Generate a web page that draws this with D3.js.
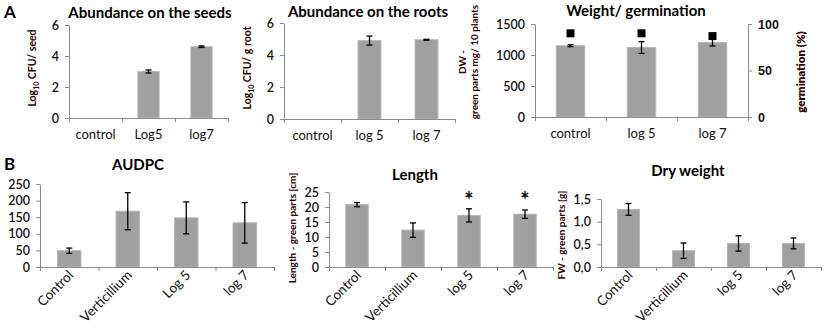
<!DOCTYPE html>
<html><head><meta charset="utf-8">
<script src="https://cdn.jsdelivr.net/npm/d3@7"></script>
<style>
body{margin:0;background:#fff;}
svg{display:block;font-family:Lato, "Liberation Sans", sans-serif;}
</style></head>
<body><svg id="c" width="827" height="329"></svg>
<script>
// ---- data ----
const seedCats = ["control", "Log5", "log7"];
const seedVals = [null, 3.0, 4.6];
const seedErr  = [null, 0.1, 0.05];

const rootCats = ["control", "log 5", "log 7"];
const rootVals = [null, 4.9, 4.95];
const rootErr  = [null, 0.28, 0.03];

const weightCats = ["control", "log 5", "log 7"];
const weightVals = [1150, 1120, 1200];
const weightErr  = [15, 95, 55];
const germVals   = [90, 90, 87];

const audpcCats = ["Control", "Verticillium", "Log 5", "log 7"];
const audpcVals = [49, 168, 148, 133];
const audpcErr  = [8, 56, 48, 61];

const lengthCats = ["Control", "Verticillium", "log 5", "log 7"];
const lengthVals = [20.8, 12.3, 17.2, 17.6];
const lengthErr  = [0.7, 2.4, 2.2, 1.4];
const lengthSig  = ["", "", "*", "*"];

const dryCats = ["Control", "Verticillium", "log 5", "log 7"];
const dryVals = [1.27, 0.36, 0.52, 0.52];
const dryErr  = [0.13, 0.17, 0.17, 0.12];

const logTicks    = [0, 2, 4, 6];
const weightTicks = [0, 500, 1000, 1500];
const germTicks   = [0, 50, 100];
const audpcTicks  = [0, 50, 100, 150, 200, 250];
const lengthTicks = [0, 5, 10, 15, 20, 25];
const dryTicks    = [0, 0.5, 1.0, 1.5];

// ---- style ----
const AXIS = "#8c8c8c", BAR = "#a0a0a0", BARSTROKE = "#b5b5b5", TXT = "#111", YLAB = "#2a0303";
const svg = d3.select("#c");

function panel(o) {
  const g = svg.append("g");
  const x = d3.scaleBand().domain(o.cats).range([o.x0, o.x1]).paddingInner(0.6).paddingOuter(0.3);
  const xi = d3.scaleLinear().domain([0, o.cats.length]).range([o.x0, o.x1]);
  const y = d3.scaleLinear().domain([0, o.ymax]).range([o.yb, o.yt]);

  g.selectAll("rect.bar").data(o.vals.map((v, i) => ({v, c: o.cats[i], e: o.err[i]})).filter(d => d.v != null))
    .join("rect").attr("class", "bar")
    .attr("x", d => x(d.c)).attr("width", x.bandwidth())
    .attr("y", d => y(d.v)).attr("height", d => y(0) - y(d.v))
    .attr("fill", BAR).attr("stroke", BARSTROKE).attr("stroke-width", 1);

  const ya = g.append("g").attr("transform", `translate(${o.x0},0)`)
    .call(d3.axisLeft(y).tickValues(o.ticks).tickSize(4).tickSizeOuter(0).tickPadding(6)
      .tickFormat(o.fmt || d3.format("d")));
  ya.select(".domain").attr("stroke", AXIS);
  ya.selectAll(".tick line").attr("stroke", AXIS);
  ya.selectAll(".tick text").attr("fill", TXT).attr("font-size", 12.5).attr("font-weight", 600).attr("font-family", "Lato");

  const xa = g.append("g").attr("transform", `translate(0,${o.yb})`)
    .call(d3.axisBottom(xi).tickValues(d3.range(0, o.cats.length + 1)).tickSize(4).tickSizeOuter(0).tickFormat(""));
  xa.select(".domain").attr("stroke", AXIS);
  xa.selectAll(".tick line").attr("stroke", AXIS);

  const eb = o.vals.map((v, i) => ({v, c: o.cats[i], e: o.err[i]})).filter(d => d.v != null && d.e != null);
  const cx = d => x(d.c) + x.bandwidth() / 2;
  g.selectAll("line.err").data(eb).join("line")
    .attr("x1", cx).attr("x2", cx).attr("y1", d => y(d.v + d.e)).attr("y2", d => y(d.v - d.e))
    .attr("stroke", "#000").attr("stroke-width", 1.3);
  ["+", "-"].forEach(s => {
    g.selectAll("line.cap" + (s === "+" ? "t" : "b")).data(eb).join("line")
      .attr("x1", d => cx(d) - 3).attr("x2", d => cx(d) + 3)
      .attr("y1", d => y(s === "+" ? d.v + d.e : d.v - d.e)).attr("y2", d => y(s === "+" ? d.v + d.e : d.v - d.e))
      .attr("stroke", "#000").attr("stroke-width", 1.3);
  });

  if (o.rot) {
    g.selectAll("text.cat").data(o.cats).join("text")
      .attr("transform", d => `translate(${x(d) + x.bandwidth() / 2 + 5},${o.yb + 9}) rotate(-45)`)
      .attr("text-anchor", "end").attr("font-size", 13.5).attr("fill", TXT).text(d => d);
  } else {
    g.selectAll("text.cat").data(o.cats).join("text")
      .attr("x", d => x(d) + x.bandwidth() / 2).attr("y", o.yb + 21)
      .attr("text-anchor", "middle").attr("font-size", 13).attr("fill", TXT).text(d => d);
  }

  g.append("text").attr("x", o.tx).attr("y", o.ty).attr("text-anchor", "middle")
    .attr("font-size", 15).attr("font-weight", 700).attr("fill", "#000").text(o.title);

  return {g, x, y};
}

function yLabel(xx, yy, size) {
  return svg.append("text").attr("transform", `translate(${xx},${yy}) rotate(-90)`)
    .attr("text-anchor", "middle").attr("font-size", size).attr("font-weight", 700).attr("fill", YLAB);
}

// ---- Panel A ----
svg.append("text").attr("x", 4).attr("y", 18).attr("font-size", 17).attr("font-weight", 700).text("A");
svg.append("text").attr("x", 4).attr("y", 170).attr("font-size", 17).attr("font-weight", 700).text("B");

panel({cats: seedCats, vals: seedVals, err: seedErr, x0: 69, x1: 228, yb: 118, yt: 25, ymax: 6, ticks: logTicks,
  title: "Abundance on the seeds", tx: 150, ty: 18});
let t = yLabel(36, 68, 10.5);
t.append("tspan").text("Log");
t.append("tspan").attr("font-size", 7).attr("dy", 3).text("10");
t.append("tspan").attr("dy", -3).text(" CFU/ seed");

panel({cats: rootCats, vals: rootVals, err: rootErr, x0: 284, x1: 455, yb: 119, yt: 23, ymax: 6, ticks: logTicks,
  title: "Abundance on the roots", tx: 368, ty: 17});
t = yLabel(251, 68, 10.5);
t.append("tspan").text("Log");
t.append("tspan").attr("font-size", 7).attr("dy", 3).text("10");
t.append("tspan").attr("dy", -3).text(" CFU/ g root");

const w = panel({cats: weightCats, vals: weightVals, err: weightErr, x0: 535, x1: 748, yb: 117, yt: 24, ymax: 1500, ticks: weightTicks,
  title: "Weight/ germination", tx: 636, ty: 16});
const yR = d3.scaleLinear().domain([0, 100]).range([117, 24]);
const ra = svg.append("g").attr("transform", "translate(748,0)")
  .call(d3.axisRight(yR).tickValues(germTicks).tickSize(4).tickSizeOuter(0).tickPadding(6));
ra.select(".domain").attr("stroke", AXIS);
ra.selectAll(".tick line").attr("stroke", AXIS);
ra.selectAll(".tick text").attr("fill", TXT).attr("font-size", 12.5).attr("font-weight", 600);
svg.selectAll("rect.germ").data(germVals.map((v, i) => ({v, c: weightCats[i]}))).join("rect")
  .attr("x", d => w.x(d.c) + w.x.bandwidth() / 2 - 4).attr("y", d => yR(d.v) - 4)
  .attr("width", 8).attr("height", 8).attr("fill", "#000");
t = yLabel(466, 62, 10);
t.append("tspan").attr("x", 0).attr("dy", 0).text("DW -");
t.append("tspan").attr("x", 0).attr("dy", 12).text("green parts mg/ 10 plants");
svg.append("text").attr("transform", "translate(805,72) rotate(-90)").attr("text-anchor", "middle")
  .attr("font-size", 11.5).attr("font-weight", 800).attr("fill", YLAB).text("germination (%)");

// ---- Panel B ----
panel({cats: audpcCats, vals: audpcVals, err: audpcErr, x0: 40, x1: 274, yb: 267, yt: 184, ymax: 250, ticks: audpcTicks,
  title: "AUDPC", tx: 138, ty: 170, rot: true});

const L = panel({cats: lengthCats, vals: lengthVals, err: lengthErr, x0: 329, x1: 553, yb: 267, yt: 192, ymax: 25, ticks: lengthTicks,
  title: "Length", tx: 415, ty: 180, rot: true});
svg.selectAll("text.sig").data(lengthSig.map((s, i) => ({s, c: lengthCats[i]}))).join("text")
  .attr("x", d => L.x(d.c) + L.x.bandwidth() / 2).attr("y", 208).attr("text-anchor", "middle")
  .attr("font-size", 22).attr("font-weight", 700).text(d => d.s);
yLabel(296, 228, 10).text("Length - green parts [cm]");

panel({cats: dryCats, vals: dryVals, err: dryErr, x0: 601, x1: 821, yb: 267, yt: 199, ymax: 1.5, ticks: dryTicks,
  title: "Dry weight", tx: 688, ty: 176, rot: true, fmt: d => d3.format(".1f")(d).replace(".", ",")});
yLabel(565, 235, 10).text("FW - green parts [g]");
</script></body></html>
